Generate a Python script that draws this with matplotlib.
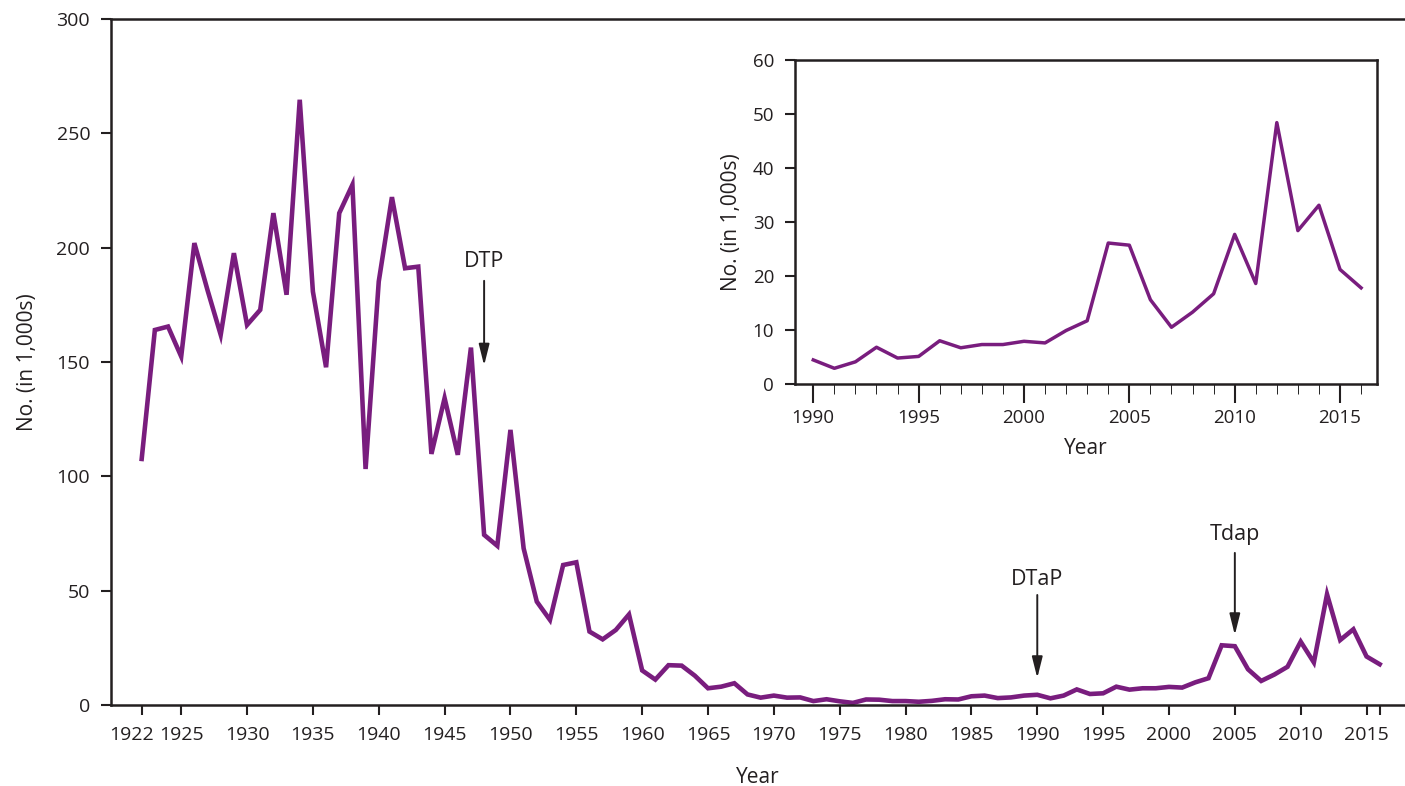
import numpy as np
import matplotlib
matplotlib.use("Agg")
import matplotlib.pyplot as plt
from matplotlib.transforms import ScaledTranslation

plt.rcParams["font.family"] = ["Open Sans", "DejaVu Sans"]

# reported pertussis cases, in thousands, 1922-2016
years = list(range(1922, 2017))
cases = [
    107.6, 164.0, 165.5, 152.4, 202.0, 181.4, 161.9, 197.6, 166.2, 172.8,  # 1922-1931
    215.1, 179.4, 264.7, 180.8, 147.7, 215.1, 227.5, 103.2, 185.2, 222.1,  # 1932-1941
    191.0, 191.7, 109.8, 134.2, 109.4, 156.3, 74.4, 69.6, 120.3, 68.5,     # 1942-1951
    45.2, 37.2, 61.2, 62.4, 32.1, 28.7, 32.8, 39.6, 15.1, 11.1,            # 1952-1961
    17.4, 17.2, 12.8, 7.3, 8.0, 9.5, 4.6, 3.2, 4.1, 3.2,                   # 1962-1971
    3.3, 1.7, 2.5, 1.6, 0.9, 2.4, 2.3, 1.7, 1.7, 1.4,                      # 1972-1981
    1.8, 2.5, 2.4, 3.8, 4.1, 3.0, 3.3, 4.1,                                # 1982-1989
    4.45, 2.9, 4.1, 6.8, 4.8, 5.1, 8.0, 6.7, 7.3, 7.3,                     # 1990-1999
    7.9, 7.6, 9.9, 11.7, 26.1, 25.7, 15.6, 10.5, 13.3, 16.7,               # 2000-2009
    27.7, 18.6, 48.4, 28.4, 33.1, 21.2, 17.8,                              # 2010-2016
]

main_ticks = [1922] + list(range(1925, 2016, 5)) + [2016]
main_ticklabels = [str(y) for y in main_ticks[:-1]] + [""]

inset_start = 1990
inset_years = years[years.index(inset_start):]
inset_cases = cases[years.index(inset_start):]

# vaccine introductions: (label, year, arrow tip, arrow tail, text y)
vaccines = [
    ("DTP", 1948, 148.5, 185.5, 194.0),
    ("DTaP", 1990, 11.8, 48.1, 54.8),
    ("Tdap", 2005, 30.6, 66.5, 74.4),
]

purple = "#791d7e"
dark = "#231f20"

fig = plt.figure(figsize=(14.05, 7.86), dpi=100)
ax = fig.add_axes([0.079, 0.1031, 0.921, 0.8727])

ax.plot(years, cases, color=purple, lw=3.3, solid_joinstyle="miter")
ax.set_xlim(1919.67, 2017.92)
ax.set_ylim(0, 300)
ax.set_yticks(range(0, 301, 50))
ax.set_xticks(main_ticks)
ax.set_xticklabels(main_ticklabels)

for side in ["left", "top", "bottom"]:
    ax.spines[side].set_linewidth(1.8)
    ax.spines[side].set_color(dark)
ax.spines["right"].set_visible(False)

ax.tick_params(direction="out", length=7, width=1.5, color=dark,
               labelsize=14, labelcolor=dark)
ax.tick_params(axis="x", pad=8)
ax.tick_params(axis="y", pad=8)

# the first label sits a little left of its tick in the original
lbl = ax.get_xticklabels()[0]
lbl.set_transform(lbl.get_transform() + ScaledTranslation(-10 / 100, 0, fig.dpi_scale_trans))

ax.set_xlabel("Year", fontsize=15, color=dark, labelpad=16.5)
ax.set_ylabel("No. (in 1,000s)", fontsize=15, color=dark, labelpad=13)

for name, yr, tip, tail, ty in vaccines:
    ax.annotate("", xy=(yr, tip), xytext=(yr, tail),
                arrowprops=dict(arrowstyle="-|>,head_length=0.8,head_width=0.2",
                                color=dark, lw=1.4, shrinkA=0, shrinkB=0,
                                mutation_scale=16))
    ax.text(yr, ty, name, ha="center", va="center", fontsize=15.5, color=dark)

# inset: 1990-2016 close-up
ins = fig.add_axes([0.5658, 0.5115, 0.4142, 0.4122])
ins.plot(inset_years, inset_cases, color=purple, lw=2.5)
ins.set_xlim(1989.13, 2016.75)
ins.set_ylim(0, 60)
ins.set_yticks(range(0, 61, 10))
ins.set_xticks(range(1990, 2016, 5))
ins.set_xticks(inset_years, minor=True)
for side in ins.spines.values():
    side.set_linewidth(1.8)
    side.set_color(dark)
ins.tick_params(direction="out", width=1.5, color=dark, labelsize=13.5, labelcolor=dark)
ins.tick_params(axis="x", which="major", length=14, pad=4)
ins.tick_params(axis="x", which="minor", length=7)
ins.tick_params(axis="y", length=7, pad=8)
ins.set_xlabel("Year", fontsize=15, color=dark, labelpad=8)
ins.set_ylabel("No. (in 1,000s)", fontsize=15, color=dark, labelpad=8)

fig.savefig("out.png", dpi=100)
plt.close(fig)
